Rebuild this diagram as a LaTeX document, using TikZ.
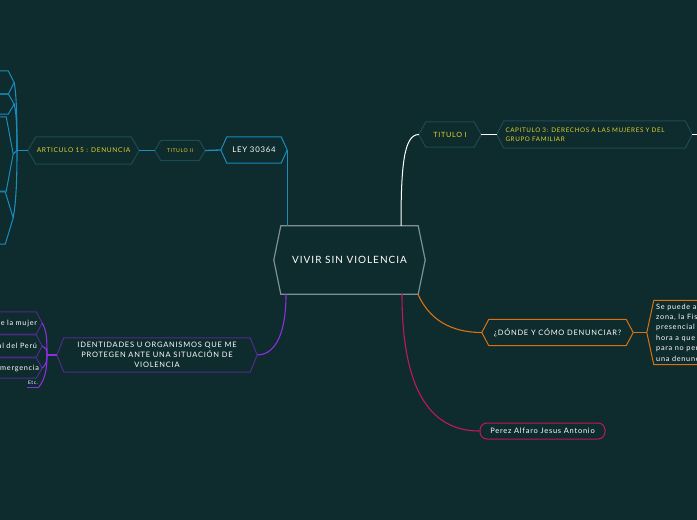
\documentclass[tikz,border=0pt]{standalone}
\usepackage{fontspec}
\setmainfont{Lato}[LetterSpace=10]
\usetikzlibrary{calc}
\definecolor{bgc}{HTML}{0E2B2E}
\definecolor{cblue}{HTML}{1B8CBB}
\definecolor{cteal}{HTML}{1D4B51}
\definecolor{cyel}{HTML}{E3D22C}
\definecolor{cgray}{HTML}{7E9192}
\definecolor{corange}{HTML}{D9720F}
\definecolor{cpink}{HTML}{C2185B}
\definecolor{cpurple}{HTML}{8E2DE2}
\definecolor{cdpurple}{HTML}{4F2C8C}
\newcommand{\hexshape}[3]{\draw[#3] ([xshift=#2]#1.north west) -- ([xshift=-#2]#1.north east) -- (#1.east) -- ([xshift=-#2]#1.south east) -- ([xshift=#2]#1.south west) -- (#1.west) -- cycle;}
\tikzset{
  box/.style={inner sep=0pt, align=center, text=white},
  blueline/.style={draw=cblue, line width=1.3pt},
  purpline/.style={draw=cpurple, line width=1.1pt},
  tealbox/.style={draw=cteal, line width=1pt},
  bluebox/.style={draw=cblue, line width=1pt},
  purpbox/.style={draw=cdpurple, line width=1pt},
  orbox/.style={draw=corange, line width=1pt},
  leftkid/.style={box, inner xsep=5pt, text width=140pt, align=right, font=\fontsize{7.3}{9}\selectfont},
}
\begin{document}
\begin{tikzpicture}[x=1pt,y=-1pt]
\fill[bgc] (0,0) rectangle (697,520);
\useasboundingbox (0,0) rectangle (697,520);
\clip (0,0) rectangle (697,520);

% central
\node[box, minimum width=151pt, minimum height=68pt, font=\fontsize{10}{12}\selectfont] (center) at (349.5,260) {VIVIR SIN VIOLENCIA};
\hexshape{center}{7pt}{draw=cgray, line width=1.2pt}

% left-top branch (blue)
\node[box, minimum width=66pt, minimum height=26pt, font=\fontsize{7.8}{9}\selectfont] (ley) at (254,150) {LEY 30364};
\hexshape{ley}{6pt}{bluebox}
\node[box, text=cyel, minimum width=50pt, minimum height=20pt, font=\fontsize{5.2}{6}\selectfont] (tit2) at (180,150.5) {TITULO II};
\hexshape{tit2}{6pt}{tealbox}
\node[box, text=cyel, minimum width=111pt, minimum height=27pt, font=\fontsize{6.6}{8}\selectfont] (art) at (83.5,150.5) {ARTICULO 15 : DENUNCIA};
\hexshape{art}{8pt}{tealbox}
\coordinate (rootL) at (17,150.5);
\node[box, minimum width=100pt, minimum height=23pt] (c1) at (-36,82.5) {};
\hexshape{c1}{6pt}{bluebox}
\node[box, minimum width=100pt, minimum height=20pt] (c2) at (-36,104) {};
\hexshape{c2}{6pt}{bluebox}
\node[box, minimum width=100pt, minimum height=74pt] (c3) at (-37,154) {};
\hexshape{c3}{7pt}{bluebox}
\node[box, minimum width=100pt, minimum height=52pt] (c4) at (-37,218) {};
\hexshape{c4}{8pt}{bluebox}

\draw[blueline] (center.north -| ley.east) -- (ley.east);
\draw[blueline] (ley.west) -- (tit2.east);
\draw[blueline] (tit2.west) -- (art.west -| art.east);
\draw[blueline, line width=1.5pt] (art.west) -- (rootL);
\draw[blueline, line width=1.1pt] (rootL) .. controls +(0,-40) and +(2,12) .. (c1.east);
\draw[blueline, line width=1.1pt] (rootL) .. controls +(0,-25) and +(2,8) .. (c2.east);
\draw[blueline, line width=1.1pt] (rootL) .. controls +(-1,1) and +(1,-1) .. (c3.east);
\draw[blueline, line width=1.1pt] (rootL) .. controls +(0,40) and +(2,-12) .. (c4.east);

% right-top branch (white)
\node[box, text=cyel, minimum width=62pt, minimum height=25pt, font=\fontsize{7.2}{8}\selectfont] (tit1) at (450,134.5) {TITULO I};
\hexshape{tit1}{7pt}{tealbox}
\node[box, text=cyel, minimum width=195pt, minimum height=27pt, inner xsep=8.5pt, text width=178pt, align=left, font=\fontsize{6.3}{9}\selectfont] (cap) at (594.5,134.5) {CAPITULO 3: DERECHOS A LAS MUJERES Y DEL\\GRUPO FAMILIAR};
\hexshape{cap}{7pt}{tealbox}
\coordinate (capR) at (705,134.5);
\draw[white, line width=1pt] ([xshift=51.5pt]center.north) .. controls (401,165) and (404,134.5) .. (tit1.west);
\draw[white, line width=1pt] (tit1.east) -- (cap.west);
\draw[white, line width=1pt] (cap.east) -- (capR);

% right-middle branch (orange)
\node[box, minimum width=151pt, minimum height=26pt, font=\fontsize{7.5}{9}\selectfont] (donde) at (557.5,332.5) {¿DÓNDE Y CÓMO DENUNCIAR?};
\hexshape{donde}{7pt}{orbox}
\node[box, minimum width=150pt, minimum height=64pt] (sep) at (722,332.5) {};
\hexshape{sep}{7pt}{orbox}
\node[anchor=west, inner sep=0pt, text=white, align=left, font=\fontsize{7.3}{10.4}\selectfont] (septext) at (656,332.5) {Se puede acudir a la comisaría de la\\zona, la Fiscalía o el juzgado de forma\\presencial a cualquier día y\\hora a que te atiendan inmediatamente\\para no perder tiempo y presentar\\una denuncia};
\draw[corange, line width=1.1pt] ([xshift=68.5pt]center.south) .. controls (432,326) and (460,332.5) .. (donde.west);
\draw[corange, line width=1.1pt] (donde.east) -- (sep.west);

% bottom branch (pink)
\node[box, draw=cpink, line width=1pt, rounded corners=7pt, minimum width=125pt, minimum height=16pt, font=\fontsize{7.5}{9}\selectfont] (perez) at (542.5,431) {Perez Alfaro Jesus Antonio};
\draw[cpink, line width=1.1pt] ([xshift=52.5pt]center.south) .. controls (402,405) and (440,431) .. (perez.west);

% left-bottom branch (purple)
\node[box, minimum width=200pt, minimum height=34pt, font=\fontsize{7.5}{10}\selectfont] (ident) at (157,355) {IDENTIDADES U ORGANISMOS QUE ME\\PROTEGEN ANTE UNA SITUACIÓN DE\\VIOLENCIA};
\hexshape{ident}{7pt}{draw=cdpurple, line width=1pt}
\coordinate (rootP) at (47,355);
\node[leftkid, minimum height=22pt] (pa) at (-33,323) {Ministerio de la mujer};
\hexshape{pa}{6pt}{purpbox}
\node[leftkid, minimum height=22pt] (pb) at (-33,346) {Policía Nacional del Perú};
\hexshape{pb}{6pt}{purpbox}
\node[leftkid, minimum height=20pt, inner xsep=3pt, text width=144pt] (pc) at (-33,368) {Centro de emergencia};
\hexshape{pc}{6pt}{purpbox}
\node[anchor=south west, inner xsep=1pt, inner ysep=2pt, text=white, font=\fontsize{5}{6}\selectfont] (etc) at (27,387) {Etc.};
\draw[cpurple, line width=1pt] (etc.south west) -- (etc.south east);
\draw[purpline] ([xshift=-63.5pt]center.south) .. controls (286,340) and (272,355) .. (ident.east);
\draw[purpline, line width=1.5pt] (ident.west) -- (rootP);
\draw[purpline] (rootP) .. controls +(0,-20) and +(4,8) .. (pa.east);
\draw[purpline] (rootP) .. controls +(0,-6) and +(4,3) .. (pb.east);
\draw[purpline] (rootP) .. controls +(0,6) and +(4,-3) .. (pc.east);
\draw[purpline] (rootP) .. controls +(0,20) and +(4,-6) .. (etc.south east);
\end{tikzpicture}
\end{document}
